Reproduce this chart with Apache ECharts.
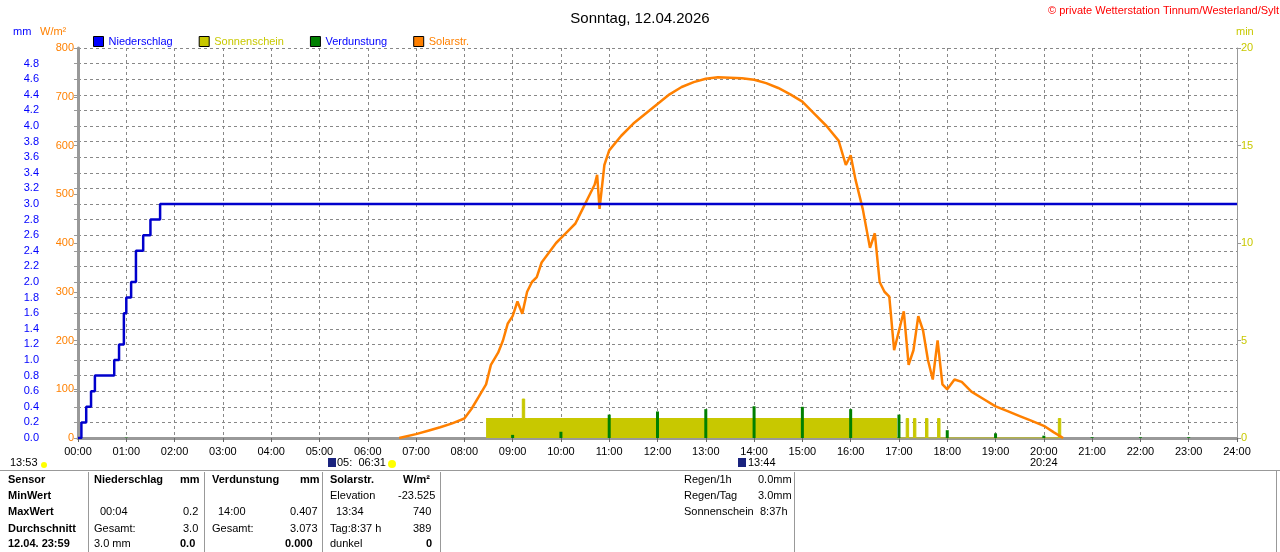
<!DOCTYPE html>
<html><head><meta charset="utf-8">
<script src="https://cdn.jsdelivr.net/npm/echarts@6/dist/echarts.min.js"></script>
<style>body{margin:0;background:#fff}#c{width:1280px;height:552px}</style>
</head><body><div id="c"></div>
<script>
// Solarstrahlung W/m2 (Zeit in Stunden)
var solarT = [6.65,7.0,7.25,7.5,7.75,8.0,8.15,8.3,8.45,8.55,8.7,8.8,8.9,9.0,9.1,9.2,9.3,9.4,9.5,9.6,9.75,9.9,10.0,10.15,10.3,10.45,10.6,10.7,10.75,10.8,10.9,11.0,11.25,11.5,11.75,12.0,12.25,12.5,12.75,13.0,13.25,13.5,13.75,14.0,14.25,14.5,14.75,15.0,15.25,15.5,15.75,15.9,16.0,16.1,16.25,16.4,16.5,16.6,16.7,16.8,16.9,17.0,17.1,17.2,17.3,17.4,17.5,17.6,17.7,17.8,17.9,18.0,18.15,18.3,18.5,18.75,19.0,19.25,19.5,19.75,20.0,20.2,20.4];
var solarV = [0,8,15,22,30,40,60,85,110,150,175,200,235,250,280,255,300,320,330,360,380,400,410,425,440,470,500,520,540,470,560,590,620,645,665,685,705,720,730,737,740,739,738,735,728,718,705,690,665,640,610,560,580,530,470,390,420,320,300,290,180,220,260,150,180,250,220,160,120,200,110,100,120,115,95,80,65,55,45,35,25,12,0];
// Niederschlag kumuliert mm
var rainT = [0,0.07,0.17,0.27,0.35,0.6,0.75,0.85,0.95,1.0,1.1,1.2,1.35,1.5,1.7,24];
var rainV = [0,0.2,0.4,0.6,0.8,0.8,1.0,1.2,1.6,1.8,2.0,2.4,2.6,2.8,3.0,3.0];
// Sonnenschein min
var sunT = [8.45,9.2,9.25,9.3,16.9,16.95,17.15,17.2,17.3,17.35,17.55,17.6,17.8,17.85,20.3,20.35,20.4];
var sunV = [1,2,1,1,1,0,1,0,1,0,1,0,1,0,1,0,0];
// Verdunstung mm
var evapT = [1,9,10,11,12,13,14,15,16,17,18,19,20,21,22,23];
var evapV = [0.005,0.04,0.08,0.3,0.34,0.37,0.407,0.4,0.37,0.3,0.1,0.06,0.03,0.01,0.01,0.01];
var hourLabels = [];
for (var h = 0; h <= 24; h++) hourLabels.push((h < 10 ? '0' : '') + h + ':00');

function pairs(t, v) { return t.map(function (x, i) { return [x, v[i]]; }); }

var chart = echarts.init(document.getElementById('c'));
var f = 'Liberation Sans, Arial, sans-serif';
var tableTxt = [
  ['Sensor', 8, 484, true], ['MinWert', 8, 500, true], ['MaxWert', 8, 516, true], ['Durchschnitt', 8, 533, true], ['12.04. 23:59', 8, 548, true],
  ['Niederschlag', 94, 484, true], ['mm', 180, 484, true], ['00:04', 100, 516], ['0.2', 183, 516], ['Gesamt:', 94, 533], ['3.0', 183, 533], ['3.0 mm', 94, 548], ['0.0', 180, 548, true],
  ['Verdunstung', 212, 484, true], ['mm', 300, 484, true], ['14:00', 218, 516], ['0.407', 290, 516], ['Gesamt:', 212, 533], ['3.073', 290, 533], ['0.000', 285, 548, true],
  ['Solarstr.', 330, 484, true], ['W/m²', 403, 484, true], ['Elevation', 330, 500], ['-23.525', 398, 500], ['13:34', 336, 516], ['740', 413, 516], ['Tag:8:37 h', 330, 533], ['389', 413, 533], ['dunkel', 330, 548], ['0', 426, 548, true],
  ['Regen/1h', 684, 484], ['0.0mm', 758, 484], ['Regen/Tag', 684, 500], ['3.0mm', 758, 500], ['Sonnenschein', 684, 516], ['8:37h', 760, 516],
  ['13:53', 10, 467], ['05:  06:31', 337, 467], ['13:44', 748, 467], ['20:24', 1030, 467]
];
var graphics = tableTxt.map(function (r) {
  return {type: 'text', left: r[1], top: r[2] - 10, style: {text: r[0], fill: '#000', font: (r[3] ? 'bold ' : '') + '11px ' + f}};
});
[88, 204, 322, 440, 794].forEach(function (x) {
  graphics.push({type: 'rect', shape: {x: x, y: 472, width: 1, height: 80}, style: {fill: '#999'}});
});
graphics.push({type: 'rect', shape: {x: 0, y: 470, width: 1280, height: 1}, style: {fill: '#999'}});
graphics.push({type: 'rect', shape: {x: 1276, y: 470, width: 1, height: 82}, style: {fill: '#999'}});
graphics.push({type: 'circle', shape: {cx: 44, cy: 465, r: 3}, style: {fill: '#ffff00'}});
graphics.push({type: 'circle', shape: {cx: 392, cy: 464, r: 4}, style: {fill: '#ffff00'}});
graphics.push({type: 'rect', shape: {x: 328, y: 458, width: 8, height: 9}, style: {fill: '#1a237e'}});
graphics.push({type: 'rect', shape: {x: 738, y: 458, width: 8, height: 9}, style: {fill: '#1a237e'}});
graphics.push({type: 'text', left: 13, top: 26, style: {text: 'mm', fill: '#0000ff', font: '11px ' + f}});
graphics.push({type: 'text', left: 40, top: 26, style: {text: 'W/m²', fill: '#ff8000', font: '11px ' + f}});
graphics.push({type: 'text', left: 1236, top: 26, style: {text: 'min', fill: '#c8c800', font: '11px ' + f}});
graphics.push({type: 'text', left: 1048, top: 5, style: {text: '© private Wetterstation Tinnum/Westerland/Sylt', fill: '#ff0000', font: '11px ' + f}});

var mmAxis = {type: 'value', min: 0, max: 5, interval: 0.2, position: 'left', offset: 36,
  axisLine: {show: true, lineStyle: {color: '#999'}}, axisTick: {show: true, length: 4},
  axisLabel: {color: '#0000ff', fontFamily: f, fontSize: 11, margin: 3, formatter: function (v) { return v >= 4.99 ? '' : v.toFixed(1); }},
  splitLine: {show: true, lineStyle: {color: '#888', type: [3, 3]}}};

chart.setOption({
  animation: false,
  title: {text: 'Sonntag, 12.04.2026', left: 'center', top: 6, textStyle: {fontFamily: f, fontSize: 15, fontWeight: 'normal', color: '#000'}},
  legend: {left: 88, top: 31, itemWidth: 10, itemHeight: 10, itemGap: 26, icon: 'rect',
    textStyle: {fontFamily: f, fontSize: 11},
    data: [{name: 'Niederschlag', textStyle: {color: '#0000ff'}, itemStyle: {color: '#0000ff', borderColor: '#000', borderWidth: 1}},
      {name: 'Sonnenschein', textStyle: {color: '#c8c800'}, itemStyle: {color: '#c8c800', borderColor: '#000', borderWidth: 1}},
      {name: 'Verdunstung', textStyle: {color: '#0000ff'}, itemStyle: {color: '#008000', borderColor: '#000', borderWidth: 1}},
      {name: 'Solarstr.', textStyle: {color: '#ff8000'}, itemStyle: {color: '#ff8000', borderColor: '#000', borderWidth: 1}}]},
  graphic: graphics,
  grid: {left: 78, right: 43, top: 48, bottom: 114},
  xAxis: {type: 'value', min: 0, max: 24, interval: 1,
    axisLine: {onZero: false, lineStyle: {color: '#999', width: 3}}, axisTick: {length: 4, lineStyle: {color: '#666'}},
    axisLabel: {color: '#000', fontFamily: f, fontSize: 11, formatter: function (v) { return hourLabels[v]; }},
    splitLine: {show: true, lineStyle: {color: '#888', type: [3, 3]}}},
  yAxis: [mmAxis,
    {type: 'value', min: 0, max: 800, interval: 100, position: 'left',
      axisLine: {show: true, lineStyle: {color: '#999', width: 3}}, axisTick: {show: true, length: 4},
      axisLabel: {color: '#ff8000', fontFamily: f, fontSize: 11, margin: 4}, splitLine: {show: false}},
    {type: 'value', min: 0, max: 20, interval: 5, position: 'right',
      axisLine: {show: true, lineStyle: {color: '#999'}}, axisTick: {show: true, length: 4},
      axisLabel: {color: '#c8c800', fontFamily: f, fontSize: 11, margin: 4}, splitLine: {show: false}}],
  series: [
    {name: 'Sonnenschein', type: 'line', yAxisIndex: 2, step: 'end', symbol: 'none', data: pairs(sunT, sunV), z: 1,
      lineStyle: {color: '#c8c800', width: 1}, itemStyle: {color: '#c8c800'}, areaStyle: {color: '#c8c800', opacity: 1}},
    {name: 'Verdunstung', type: 'bar', yAxisIndex: 0, barWidth: 3, data: pairs(evapT, evapV), z: 3, itemStyle: {color: '#008000'}},
    {name: 'Solarstr.', type: 'line', yAxisIndex: 1, symbol: 'none', data: pairs(solarT, solarV), z: 4,
      lineStyle: {color: '#ff8000', width: 2.5}, itemStyle: {color: '#ff8000'}},
    {name: 'Niederschlag', type: 'line', yAxisIndex: 0, step: 'end', symbol: 'none', data: pairs(rainT, rainV), z: 5,
      lineStyle: {color: '#0000cc', width: 2.5}, itemStyle: {color: '#0000ff'}}
  ]
});
</script></body></html>
